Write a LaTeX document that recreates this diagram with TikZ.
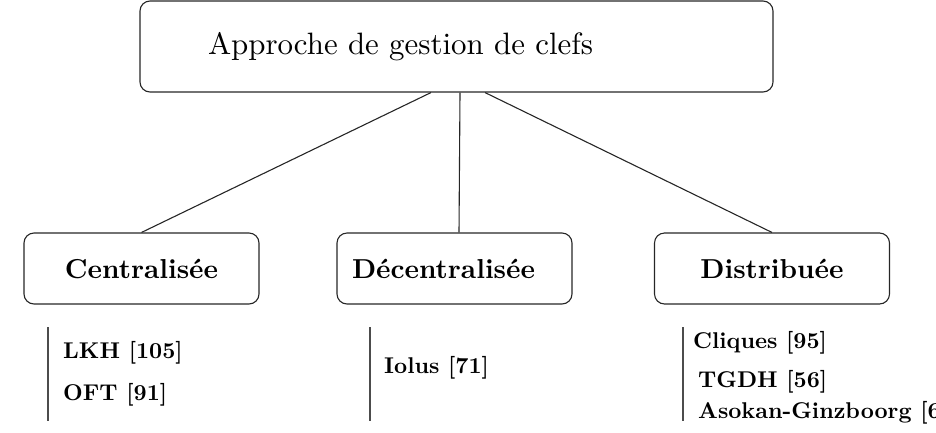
\documentclass[tikz,border=0pt]{standalone}
\newcommand{\toptxt}[1]{\scalebox{3.09}{\fontsize{10}{12}\selectfont #1}}
\newcommand{\cattxt}[1]{\scalebox{2.74}{\fontsize{10}{12}\selectfont\bfseries #1}}
\newcommand{\itemtxt}[1]{\scalebox{2.28}{\fontsize{10}{12}\selectfont\bfseries #1}}
\begin{document}
\begin{tikzpicture}[x=1pt,y=-1pt,
  topbox/.style={draw=black!85, line width=1.1pt, rounded corners=10pt, minimum height=91pt,
    inner xsep=68pt, text width=497pt, align=left},
  catbox/.style={draw=black!85, line width=1.1pt, rounded corners=10pt, minimum height=71pt,
    minimum width=235pt, inner sep=0pt},
  item/.style={anchor=west, inner sep=0pt},
  link/.style={draw=black!85, line width=1.1pt},
  bar/.style={draw=black!70, line width=1.4pt}]
\useasboundingbox (0,0) rectangle (936,432);
\clip (0,0) rectangle (936,432);
\node[topbox] (top) at (456.5,46.5) {\toptxt{Approche de gestion de clefs}};
\node[catbox] (cen) at (141.5,268.5) {\cattxt{Centralis\'ee}};
\node[catbox, text width=205pt, align=left, inner xsep=15pt, minimum width=0pt] (dec) at (454.5,268.5) {\cattxt{D\'ecentralis\'ee}};
\node[catbox] (dis) at (772,268.5) {\cattxt{Distribu\'ee}};
\draw[link] ([xshift=-25.5pt]top.south) -- (cen.north);
\draw[link] ([xshift=3.5pt]top.south) -- ([xshift=4.5pt]dec.north);
\draw[link] ([xshift=28.5pt]top.south) -- (dis.north);
\draw[bar] (48,327) -- (48,421);
\draw[bar] (370,327) -- (370,421);
\draw[bar] (683,327) -- (683,421);
\node[item] (lkh) at (63,353) {\itemtxt{LKH [105]}};
\node[item] (oft) at (63,395) {\itemtxt{OFT [91]}};
\node[item] (iolus) at (384,368) {\itemtxt{Iolus [71]}};
\node[item] (cliq) at (693,343) {\itemtxt{Cliques [95]}};
\node[item] (tgdh) at (698,382) {\itemtxt{TGDH [56]}};
\node[item] (asok) at (698,413) {\itemtxt{Asokan-Ginzboorg [6}};
\end{tikzpicture}
\end{document}
